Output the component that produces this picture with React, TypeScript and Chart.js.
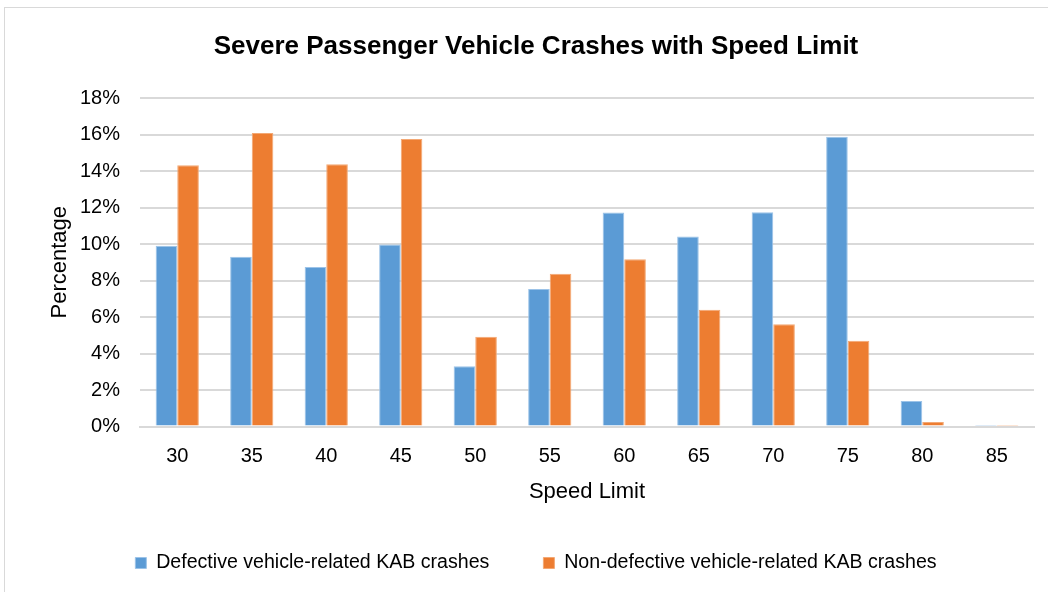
import React, { useEffect, useRef } from "react";
import { Chart, registerables } from "chart.js";

Chart.register(...registerables);

const categories = ["30", "35", "40", "45", "50", "55", "60", "65", "70", "75", "80", "85"];
const defectiveValues = [9.9, 9.3, 8.74, 9.97, 3.3, 7.53, 11.72, 10.41, 11.74, 15.88, 1.4, 0.03];
const nonDefectiveValues = [14.32, 16.08, 14.37, 15.75, 4.92, 8.37, 9.17, 6.4, 5.6, 4.7, 0.24, 0.02];
const yTicks = [0, 2, 4, 6, 8, 10, 12, 14, 16, 18];

const FONT = '"Liberation Sans", Arial, sans-serif';

export default function App() {
  const ref = useRef<HTMLCanvasElement | null>(null);
  useEffect(() => {
    document.body.style.margin = "0";
    const ctx = ref.current!;
    const chart = new Chart(ctx, {
      type: "bar",
      data: {
        labels: categories,
        datasets: [
          {
            label: "Defective vehicle-related KAB crashes",
            data: defectiveValues,
            backgroundColor: "#5b9bd5",
            borderColor: "#9cc3e8",
            borderWidth: 1,
            barPercentage: 1,
            categoryPercentage: 0.58,
          },
          {
            label: "Non-defective vehicle-related KAB crashes",
            data: nonDefectiveValues,
            backgroundColor: "#ed7d31",
            borderColor: "#f3a874",
            borderWidth: 1,
            barPercentage: 1,
            categoryPercentage: 0.58,
          },
        ],
      },
      options: {
        animation: false,
        responsive: false,
        layout: { padding: { left: 38, right: 14, top: 14, bottom: 9.2 } },
        plugins: {
          title: {
            display: true,
            text: "Severe Passenger Vehicle Crashes with Speed Limit",
            color: "#000",
            font: { family: FONT, size: 26, weight: "bold" },
            padding: { top: 17, bottom: 35.8 },
          },
          legend: {
            position: "bottom",
            labels: {
              color: "#000",
              font: { family: FONT, size: 19.6 },
              boxWidth: 11,
              boxHeight: 11,
              padding: 54,
              useBorderRadius: false,
            },
          },
          tooltip: { enabled: false },
        },
        scales: {
          x: {
            grid: { display: false },
            border: { display: true, color: "#d9d9d9", width: 2 },
            ticks: { color: "#000", font: { family: FONT, size: 20 }, padding: 10 },
            title: {
              display: true,
              text: "Speed Limit",
              color: "#000",
              font: { family: FONT, size: 22 },
              padding: { top: 0, bottom: -6 },
            },
            afterFit: (s: any) => {
              s.height = 72.7;
            },
          },
          y: {
            min: 0,
            max: 18,
            afterBuildTicks: (s: any) => {
              s.ticks = yTicks.map((v) => ({ value: v }));
            },
            grid: { color: "#d9d9d9", lineWidth: 2, drawTicks: false },
            border: { display: false },
            ticks: {
              color: "#000",
              font: { family: FONT, size: 20 },
              padding: 20,
              callback: (v: any) => v + "%",
            },
            title: {
              display: true,
              text: "Percentage",
              color: "#000",
              font: { family: FONT, size: 22 },
              padding: { top: 9, bottom: 0 },
            },
            afterFit: (s: any) => {
              s.width = 102;
            },
          },
        },
      },
    });
    return () => chart.destroy();
  }, []);
  return (
    <div style={{ position: "absolute", left: 0, top: 0, width: 1048, height: 592, background: "#fff" }}>
      <div
        style={{
          position: "absolute",
          left: 4,
          top: 7,
          width: 1060,
          height: 600,
          border: "1px solid #d9d9d9",
          boxSizing: "border-box",
        }}
      />
      <canvas ref={ref} width={1048} height={592} style={{ position: "absolute", left: 0, top: 0, display: "block" }} />
    </div>
  );
}
